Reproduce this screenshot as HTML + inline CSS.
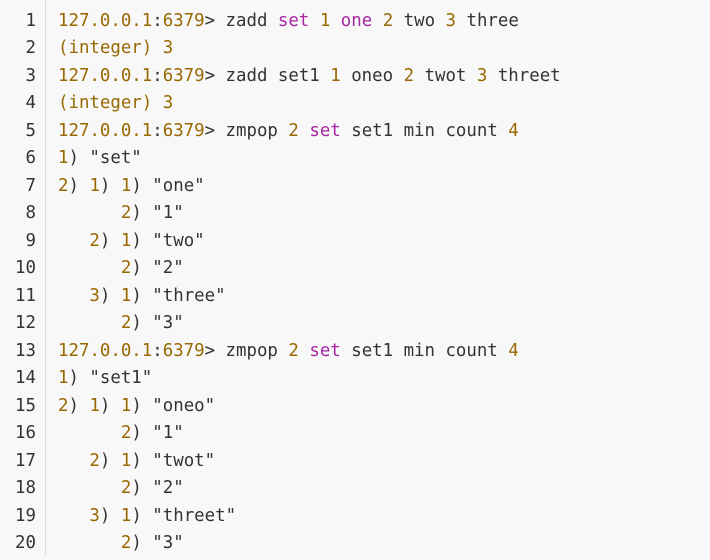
<!DOCTYPE html>
<html><head><meta charset="utf-8"><style>
html,body{margin:0;padding:0;background:#f8f8f8;width:710px;height:560px;overflow:hidden}
.wrap{position:relative;width:710px;height:560px;background:#f8f8f8}
.g{position:absolute;left:45px;top:0;width:1px;height:556px;background:#ddd}
.ln{position:absolute;left:0;top:7.5px;width:36px;text-align:right;font:17.4px/27.5px "DejaVu Sans Mono","Liberation Mono",monospace;color:#333}
pre{position:absolute;left:58px;top:7.5px;margin:0;font:17.4px/27.5px "DejaVu Sans Mono","Liberation Mono",monospace;color:#333;white-space:pre}
.n{color:#986801}.k{color:#a626a4}
</style></head><body><div class="wrap">
<div class="g"></div>
<div class="ln">1<br>2<br>3<br>4<br>5<br>6<br>7<br>8<br>9<br>10<br>11<br>12<br>13<br>14<br>15<br>16<br>17<br>18<br>19<br>20</div>
<pre><span class="n">127.0.0.1</span>:<span class="n">6379</span>&gt; zadd <span class="k">set</span> <span class="n">1</span> <span class="k">one</span> <span class="n">2</span> two <span class="n">3</span> three
<span class="n">(integer) 3</span>
<span class="n">127.0.0.1</span>:<span class="n">6379</span>&gt; zadd set1 <span class="n">1</span> oneo <span class="n">2</span> twot <span class="n">3</span> threet
<span class="n">(integer) 3</span>
<span class="n">127.0.0.1</span>:<span class="n">6379</span>&gt; zmpop <span class="n">2</span> <span class="k">set</span> set1 min count <span class="n">4</span>
<span class="n">1</span>) "set"
<span class="n">2</span>) <span class="n">1</span>) <span class="n">1</span>) "one"
      <span class="n">2</span>) "1"
   <span class="n">2</span>) <span class="n">1</span>) "two"
      <span class="n">2</span>) "2"
   <span class="n">3</span>) <span class="n">1</span>) "three"
      <span class="n">2</span>) "3"
<span class="n">127.0.0.1</span>:<span class="n">6379</span>&gt; zmpop <span class="n">2</span> <span class="k">set</span> set1 min count <span class="n">4</span>
<span class="n">1</span>) "set1"
<span class="n">2</span>) <span class="n">1</span>) <span class="n">1</span>) "oneo"
      <span class="n">2</span>) "1"
   <span class="n">2</span>) <span class="n">1</span>) "twot"
      <span class="n">2</span>) "2"
   <span class="n">3</span>) <span class="n">1</span>) "threet"
      <span class="n">2</span>) "3"</pre>
</div></body></html>
